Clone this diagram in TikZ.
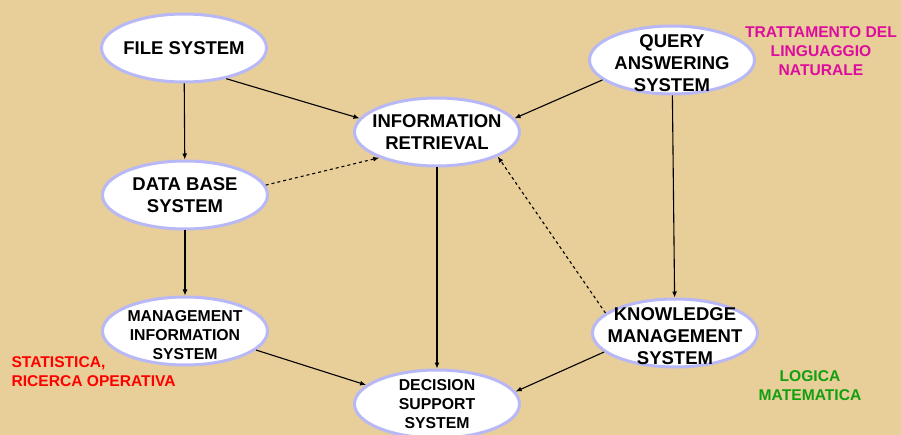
\documentclass[tikz,border=0pt]{standalone}
\usepackage{fontspec}
\setmainfont{Liberation Sans}
\usepackage{tikz}
\usetikzlibrary{shapes.geometric,arrows.meta}
\definecolor{papiro}{RGB}{232,206,152}
\definecolor{bordo}{RGB}{184,184,246}
\definecolor{viola}{RGB}{222,12,158}
\definecolor{verde}{RGB}{16,160,16}
\tikzset{
  sis/.style={ellipse,draw=bordo,line width=3pt,fill=white,minimum width=165pt,
    minimum height=68pt,inner sep=-10pt,align=center,
    font=\bfseries\fontsize{18.5}{22}\selectfont},
  sispic/.style={sis,font=\bfseries\fontsize{15.8}{19.3}\selectfont},
  giu/.style={text height=#1},
  area/.style={align=center,font=\bfseries\fontsize{15.6}{19}\selectfont},
  freccia/.style={-{Latex[length=6pt,width=5pt]},line width=1.1pt},
}
\begin{document}
\begin{tikzpicture}[x=1pt,y=-1pt]
                \fill[papiro] (0,0) rectangle (901,435);
                \useasboundingbox (0,0) rectangle (901,435);
                \clip (0,0) rectangle (901,435);
                \node[sis](fs) at (184,48){FILE SYSTEM};
                \node[sis](db) at (185,195){DATA BASE\\SYSTEM};
                \node[sispic,giu=58pt](mis) at (185,331){MANAGEMENT\\INFORMATION\\SYSTEM};
                \node[sis](ir) at (437,132){INFORMATION\\RETRIEVAL};
                \node[sis,giu=64pt](qas) at (672,60){QUERY\\ANSWERING\\SYSTEM};
                \node[sis,giu=64pt](kms) at (675,333){KNOWLEDGE\\MANAGEMENT\\SYSTEM};
                \node[sispic](dss) at (437,404){DECISION\\SUPPORT\\SYSTEM};
                \node[area,text=viola](tlm) at (821,51){TRATTAMENTO DEL\\LINGUAGGIO\\NATURALE};
                \node[area,text=red,align=left,anchor=west](sro) at (8,372){STATISTICA,\\RICERCA OPERATIVA};
                \node[area,text=verde](lm) at (810,386){LOGICA\\MATEMATICA};
                \path[freccia](fs) edge (db)
                        (fs.-36) edge (ir.170)
                        (db) edge (mis)
                        (db.7) edge[dashed] (ir.204)
                        (mis.-15) edge (dss.165)
                        (ir) edge (dss)
                        (qas.196) edge (ir.10)
                        (qas) edge (kms)
                        (kms.164) edge[dashed] (ir.-22)
                        (kms.195) edge (dss.9);
            \end{tikzpicture}
\end{document}
